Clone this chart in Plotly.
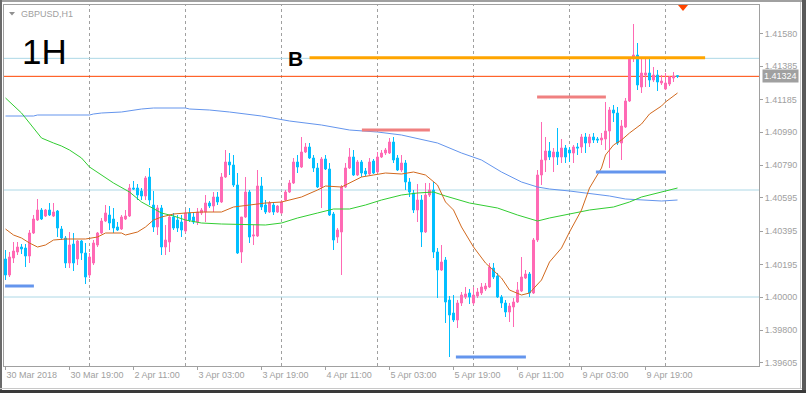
import plotly.graph_objects as go
import pandas as pd

# ---------------- data ----------------
# hourly sessions (weekend skipped): start, number of bars
sessions = [("2018-03-30 03:00", 21), ("2018-04-02 00:00", 24), ("2018-04-03 00:00", 24),
            ("2018-04-04 00:00", 24), ("2018-04-05 00:00", 24), ("2018-04-06 00:00", 24),
            ("2018-04-09 00:00", 24), ("2018-04-10 00:00", 4)]
times = []
for start, n in sessions:
    times += list(pd.date_range(start, periods=n, freq="h"))

open_ = [
1.40228, 1.40132, 1.40234, 1.40270, 1.40300, 1.40294, 1.40246, 1.40384, 1.40462, 1.40522,
1.40486, 1.40522, 1.40486, 1.40516, 1.40408, 1.40354, 1.40204, 1.40318, 1.40228, 1.40336,
1.40264, 1.40132, 1.40204, 1.40312, 1.40384, 1.40456, 1.40492, 1.40468, 1.40420, 1.40408,
1.40468, 1.40486, 1.40654, 1.40654, 1.40636, 1.40606, 1.40720, 1.40552, 1.40420, 1.40534,
1.40300, 1.40330, 1.40480, 1.40462, 1.40450, 1.40396, 1.40504, 1.40480, 1.40450, 1.40504,
1.40510, 1.40564, 1.40546, 1.40600, 1.40570, 1.40720, 1.40810, 1.40792, 1.40672, 1.40270,
1.40480, 1.40630, 1.40366, 1.40366, 1.40666, 1.40552, 1.40510, 1.40552, 1.40510, 1.40504,
1.40582, 1.40630, 1.40684, 1.40810, 1.40780, 1.40870, 1.40900, 1.40834, 1.40774, 1.40660,
1.40828, 1.40768, 1.40498, 1.40360, 1.40390, 1.40660, 1.40774, 1.40840, 1.40732, 1.40810,
1.40756, 1.40738, 1.40816, 1.40750, 1.40840, 1.40864, 1.40864, 1.40930, 1.40834, 1.40762,
1.40804, 1.40690, 1.40624, 1.40522, 1.40582, 1.40390, 1.40612, 1.40642, 1.40270, 1.40162,
1.40222, 1.39982, 1.39904, 1.39862, 1.39964, 1.40000, 1.40024, 1.39964, 1.40006, 1.40024,
1.40048, 1.40060, 1.40174, 1.40126, 1.40000, 1.39964, 1.39910, 1.39940, 1.39970, 1.40036,
1.40114, 1.40138, 1.40024, 1.40342, 1.40732, 1.40822, 1.40876, 1.40840, 1.40870, 1.40840,
1.40894, 1.40882, 1.40864, 1.40900, 1.40900, 1.40960, 1.40924, 1.40960, 1.40948, 1.40942,
1.40948, 1.40996, 1.41122, 1.41104, 1.40924, 1.41020, 1.41176, 1.41434, 1.41452, 1.41260,
1.41332, 1.41344, 1.41302, 1.41332, 1.41284, 1.41248, 1.41278, 1.41314, 1.41328]

high = [
1.40282, 1.40270, 1.40330, 1.40330, 1.40318, 1.40318, 1.40402, 1.40492, 1.40588, 1.40534,
1.40528, 1.40564, 1.40564, 1.40522, 1.40426, 1.40366, 1.40390, 1.40384, 1.40342, 1.40342,
1.40324, 1.40264, 1.40342, 1.40390, 1.40474, 1.40552, 1.40546, 1.40534, 1.40450, 1.40492,
1.40522, 1.40678, 1.40696, 1.40678, 1.40654, 1.40726, 1.40774, 1.40636, 1.40552, 1.40552,
1.40432, 1.40492, 1.40504, 1.40492, 1.40492, 1.40522, 1.40534, 1.40510, 1.40534, 1.40534,
1.40612, 1.40576, 1.40630, 1.40630, 1.40744, 1.40882, 1.40864, 1.40852, 1.40744, 1.40480,
1.40720, 1.40642, 1.40432, 1.40762, 1.40720, 1.40582, 1.40576, 1.40570, 1.40552, 1.40582,
1.40642, 1.40702, 1.40834, 1.40852, 1.40960, 1.40924, 1.40924, 1.40852, 1.40804, 1.40840,
1.40852, 1.40804, 1.40510, 1.40414, 1.40672, 1.40804, 1.40894, 1.40882, 1.40822, 1.40822,
1.40774, 1.40834, 1.40828, 1.40870, 1.40882, 1.40894, 1.40954, 1.40960, 1.40852, 1.40852,
1.40822, 1.40714, 1.40642, 1.40678, 1.40612, 1.40684, 1.40684, 1.40690, 1.40294, 1.40312,
1.40240, 1.40006, 1.40012, 1.39982, 1.40030, 1.40060, 1.40048, 1.40060, 1.40054, 1.40084,
1.40084, 1.40204, 1.40204, 1.40144, 1.40012, 1.39982, 1.39964, 1.39994, 1.40090, 1.40240,
1.40162, 1.40150, 1.40354, 1.40762, 1.41050, 1.40960, 1.40930, 1.40894, 1.41014, 1.40948,
1.40912, 1.40900, 1.40912, 1.40924, 1.40978, 1.40984, 1.40978, 1.40984, 1.40960, 1.40984,
1.41170, 1.41140, 1.41152, 1.41140, 1.41062, 1.41194, 1.41440, 1.41638, 1.41524, 1.41428,
1.41434, 1.41428, 1.41380, 1.41362, 1.41332, 1.41344, 1.41326, 1.41350, 1.41332]

low = [
1.40102, 1.40120, 1.40204, 1.40252, 1.40258, 1.40180, 1.40204, 1.40378, 1.40456, 1.40462,
1.40480, 1.40486, 1.40480, 1.40360, 1.40342, 1.40174, 1.40174, 1.40156, 1.40192, 1.40222,
1.40078, 1.40114, 1.40192, 1.40300, 1.40378, 1.40450, 1.40402, 1.40384, 1.40396, 1.40402,
1.40462, 1.40480, 1.40642, 1.40582, 1.40582, 1.40582, 1.40552, 1.40390, 1.40372, 1.40252,
1.40252, 1.40270, 1.40402, 1.40390, 1.40360, 1.40384, 1.40450, 1.40438, 1.40432, 1.40492,
1.40450, 1.40534, 1.40510, 1.40552, 1.40564, 1.40714, 1.40732, 1.40660, 1.40258, 1.40204,
1.40474, 1.40324, 1.40312, 1.40360, 1.40522, 1.40498, 1.40504, 1.40492, 1.40504, 1.40498,
1.40576, 1.40624, 1.40678, 1.40744, 1.40774, 1.40864, 1.40828, 1.40750, 1.40654, 1.40534,
1.40762, 1.40486, 1.40282, 1.40324, 1.40132, 1.40654, 1.40768, 1.40726, 1.40726, 1.40720,
1.40726, 1.40732, 1.40738, 1.40744, 1.40834, 1.40852, 1.40858, 1.40804, 1.40756, 1.40750,
1.40642, 1.40600, 1.40504, 1.40450, 1.40300, 1.40384, 1.40600, 1.40234, 1.39994, 1.40156,
1.39844, 1.39640, 1.39850, 1.39814, 1.39946, 1.39988, 1.39958, 1.39952, 1.39994, 1.40012,
1.40036, 1.40054, 1.40108, 1.39994, 1.39934, 1.39880, 1.39850, 1.39820, 1.39964, 1.40030,
1.40108, 1.40000, 1.40018, 1.40330, 1.40672, 1.40750, 1.40822, 1.40750, 1.40792, 1.40804,
1.40804, 1.40810, 1.40804, 1.40852, 1.40864, 1.40864, 1.40900, 1.40924, 1.40924, 1.40912,
1.40882, 1.40774, 1.41050, 1.40912, 1.40822, 1.41014, 1.41170, 1.41410, 1.41242, 1.41224,
1.41260, 1.41260, 1.41290, 1.41236, 1.41272, 1.41242, 1.41266, 1.41290, 1.41314]

close = [
1.40132, 1.40240, 1.40276, 1.40300, 1.40288, 1.40246, 1.40384, 1.40468, 1.40522, 1.40468,
1.40522, 1.40492, 1.40510, 1.40414, 1.40354, 1.40204, 1.40312, 1.40204, 1.40336, 1.40264,
1.40120, 1.40240, 1.40324, 1.40384, 1.40456, 1.40504, 1.40444, 1.40414, 1.40402, 1.40480,
1.40486, 1.40654, 1.40648, 1.40612, 1.40606, 1.40714, 1.40582, 1.40420, 1.40534, 1.40300,
1.40342, 1.40480, 1.40414, 1.40414, 1.40402, 1.40504, 1.40462, 1.40450, 1.40510, 1.40522,
1.40564, 1.40546, 1.40600, 1.40570, 1.40720, 1.40810, 1.40792, 1.40672, 1.40264, 1.40480,
1.40630, 1.40360, 1.40372, 1.40666, 1.40540, 1.40510, 1.40564, 1.40510, 1.40546, 1.40570,
1.40630, 1.40684, 1.40810, 1.40780, 1.40870, 1.40900, 1.40834, 1.40774, 1.40660, 1.40828,
1.40768, 1.40492, 1.40342, 1.40402, 1.40660, 1.40774, 1.40840, 1.40732, 1.40810, 1.40744,
1.40738, 1.40810, 1.40744, 1.40840, 1.40864, 1.40882, 1.40930, 1.40822, 1.40762, 1.40804,
1.40690, 1.40630, 1.40522, 1.40582, 1.40390, 1.40612, 1.40642, 1.40270, 1.40162, 1.40210,
1.39970, 1.39892, 1.39862, 1.39964, 1.40012, 1.40018, 1.40000, 1.40012, 1.40030, 1.40060,
1.40066, 1.40180, 1.40120, 1.40000, 1.39964, 1.39910, 1.39946, 1.39970, 1.40042, 1.40120,
1.40138, 1.40024, 1.40342, 1.40732, 1.40822, 1.40876, 1.40840, 1.40870, 1.40840, 1.40894,
1.40840, 1.40864, 1.40900, 1.40894, 1.40960, 1.40924, 1.40960, 1.40942, 1.40942, 1.40954,
1.40996, 1.41122, 1.41104, 1.40924, 1.41026, 1.41176, 1.41434, 1.41452, 1.41272, 1.41344,
1.41344, 1.41302, 1.41332, 1.41290, 1.41296, 1.41284, 1.41320, 1.41326, 1.41324]

# moving averages (bar index, price)
ma_fast_bar = [0, 2, 4, 6, 8, 10, 12, 15, 20, 23, 25, 29, 30, 33, 35, 37, 39, 42, 45, 49,
               54, 57, 61, 65, 69, 74, 78, 80, 84, 86, 89, 92, 95, 99, 102, 105, 108, 110, 112, 114,
               117, 120, 124, 126, 129, 131, 134, 136, 139, 141, 144, 146, 149, 150, 152, 154, 156, 159, 161, 164,
               165, 168]
ma_fast = [1.40408, 1.40372, 1.40354, 1.40324, 1.40300, 1.40312, 1.40342, 1.40348, 1.40348, 1.40360,
           1.40384, 1.40384, 1.40372, 1.40390, 1.40420, 1.40462, 1.40480, 1.40498, 1.40504, 1.40510,
           1.40510, 1.40540, 1.40552, 1.40564, 1.40570, 1.40600, 1.40642, 1.40666, 1.40660, 1.40684,
           1.40720, 1.40732, 1.40744, 1.40738, 1.40750, 1.40732, 1.40672, 1.40570, 1.40522, 1.40420,
           1.40300, 1.40204, 1.40114, 1.40042, 1.40012, 1.40024, 1.40102, 1.40210, 1.40294, 1.40390,
           1.40522, 1.40654, 1.40774, 1.40852, 1.40912, 1.40942, 1.40984, 1.41038, 1.41098, 1.41146,
           1.41170, 1.41224]

ma_mid_bar = [0, 4, 6, 9, 12, 14, 16, 19, 21, 24, 27, 31, 34, 39, 42, 45, 49, 54, 61, 65,
              69, 73, 78, 82, 86, 90, 94, 99, 103, 107, 110, 116, 123, 128, 133, 136, 141, 146, 152, 156,
              159, 164, 168]
ma_mid = [1.41194, 1.41104, 1.41044, 1.40954, 1.40924, 1.40906, 1.40882, 1.40834, 1.40780, 1.40732,
          1.40684, 1.40630, 1.40570, 1.40504, 1.40486, 1.40462, 1.40444, 1.40438, 1.40432, 1.40432,
          1.40444, 1.40474, 1.40504, 1.40528, 1.40528, 1.40552, 1.40582, 1.40612, 1.40624, 1.40630,
          1.40606, 1.40564, 1.40534, 1.40492, 1.40456, 1.40474, 1.40498, 1.40522, 1.40540, 1.40570,
          1.40600, 1.40630, 1.40654]

ma_slow_bar = [0, 7, 8, 21, 22, 24, 29, 32, 34, 37, 45, 46, 51, 56, 64, 71, 79, 86, 93, 99,
               108, 114, 119, 124, 129, 133, 136, 141, 145, 151, 155, 160, 164, 168]
ma_slow = [1.41086, 1.41086, 1.41092, 1.41092, 1.41098, 1.41104, 1.41110, 1.41122, 1.41128, 1.41134,
           1.41134, 1.41128, 1.41122, 1.41110, 1.41086, 1.41056, 1.41032, 1.41002, 1.40990, 1.40972,
           1.40924, 1.40864, 1.40822, 1.40750, 1.40690, 1.40660, 1.40648, 1.40636, 1.40624, 1.40606,
           1.40588, 1.40582, 1.40576, 1.40582]

# horizontal levels
full_levels = [1.41432, 1.40642, 1.40000]
bid_price = 1.41324
b_level = (1.41436, 76.0, 174.9)
coral_levels = [(1.41002, 89.1, 106.1), (1.41200, 132.9, 150.1)]
blue_levels = [(1.40066, -0.1, 7.1), (1.39640, 112.6, 130.1), (1.40750, 147.6, 165.1)]

price_ticks = [1.41580, 1.41385, 1.41185, 1.40990, 1.40790, 1.40595, 1.40395, 1.40195, 1.40000, 1.39800, 1.39605]
time_tick_times = ["2018-03-30 03:00", "2018-03-30 19:00", "2018-04-02 11:00", "2018-04-03 03:00",
                   "2018-04-03 19:00", "2018-04-04 11:00", "2018-04-05 03:00", "2018-04-05 19:00",
                   "2018-04-06 11:00", "2018-04-09 03:00", "2018-04-09 19:00"]
time_tick_labels = ["30 Mar 2018", "30 Mar 19:00", "2 Apr 11:00", "3 Apr 03:00", "3 Apr 19:00",
                    "4 Apr 11:00", "5 Apr 03:00", "5 Apr 19:00", "6 Apr 11:00", "9 Apr 03:00", "9 Apr 19:00"]

# ---------------- figure ----------------
W, H = 806, 393
L, R, T, B = 4, 759, 5, 366
def px(x):
    return (x - L) / (R - L)
def py(y):
    return (B - y) / (B - T)

xs = list(range(len(times)))
tick_pos = [times.index(pd.Timestamp(t)) for t in time_tick_times]
day_starts = [i for i, t in enumerate(times) if t.hour == 0]

FONT = "Liberation Sans, Arial, sans-serif"
GRAY = "#a0a0a0"

fig = go.Figure()
fig.add_trace(go.Scatter(x=ma_slow_bar, y=ma_slow, mode="lines",
                         line=dict(color="#6495ED", width=1), hoverinfo="skip"))
fig.add_trace(go.Scatter(x=ma_mid_bar, y=ma_mid, mode="lines",
                         line=dict(color="#32CD32", width=1), hoverinfo="skip"))
fig.add_trace(go.Scatter(x=ma_fast_bar, y=ma_fast, mode="lines",
                         line=dict(color="#D2691E", width=1), hoverinfo="skip"))
fig.add_trace(go.Candlestick(
    x=xs, open=open_, high=high, low=low, close=close,
    increasing=dict(line=dict(color="#FF69B4", width=1), fillcolor="#FF69B4"),
    decreasing=dict(line=dict(color="#00BFFF", width=1), fillcolor="#00BFFF"),
    whiskerwidth=0, hoverinfo="skip"))

shapes = []
for d in day_starts:
    shapes.append(dict(type="line", xref="x", yref="paper", x0=d, x1=d, y0=0, y1=1,
                       line=dict(color=GRAY, width=1, dash="3px,3px"), layer="below"))
for lv in full_levels:
    shapes.append(dict(type="line", xref="paper", yref="y", x0=0, x1=1, y0=lv, y1=lv,
                       line=dict(color="#ADD8E6", width=1), layer="below"))
shapes.append(dict(type="line", xref="paper", yref="y", x0=0, x1=1, y0=bid_price, y1=bid_price,
                   line=dict(color="#FF4500", width=1), layer="below"))
p, a, b = b_level
shapes.append(dict(type="line", xref="x", yref="y", x0=a, x1=b, y0=p, y1=p,
                   line=dict(color="#FFA500", width=3)))
for p, a, b in coral_levels:
    shapes.append(dict(type="line", xref="x", yref="y", x0=a, x1=b, y0=p, y1=p,
                       line=dict(color="#F08080", width=3)))
for p, a, b in blue_levels:
    shapes.append(dict(type="line", xref="x", yref="y", x0=a, x1=b, y0=p, y1=p,
                       line=dict(color="#6495ED", width=3)))

# window frame
def rect(x0, y0, x1, y1, color):
    return dict(type="rect", xref="paper", yref="paper", x0=px(x0), x1=px(x1), y0=py(y1), y1=py(y0),
                line=dict(width=0), fillcolor=color, layer="above")
shapes += [rect(0, 0, 806, 2, "#a0a0a0"), rect(0, 0, 2, 393, "#6a6a6a"),
           rect(800, 2, 801, 389, "#c8c8c8"), rect(802, 0, 806, 393, "#5a5a5a"),
           rect(0, 388, 802, 389, "#c8c8c8"), rect(0, 390, 806, 393, "#3a3a3a")]
# small markers
def tri(pts, color):
    path = "M " + " L ".join(f"{px(x)},{py(y)}" for x, y in pts) + " Z"
    return dict(type="path", xref="paper", yref="paper", path=path,
                fillcolor=color, line=dict(width=0))
shapes.append(tri([(9, 12), (15, 12), (12, 15.5)], "#909090"))
shapes.append(tri([(678, 5), (688, 5), (683, 11)], "#FF4500"))

annotations = [
    dict(text="GBPUSD,H1", xref="paper", yref="paper", x=px(19), y=py(14), xanchor="left", yanchor="middle",
         showarrow=False, font=dict(family=FONT, size=9, color=GRAY)),
    dict(text="1H", xref="paper", yref="paper", x=px(20), y=py(51), xanchor="left", yanchor="middle",
         showarrow=False, font=dict(family=FONT, size=35, color="#000000")),
    dict(text="<b>B</b>", xref="paper", yref="paper", x=px(286), y=py(58), xanchor="left", yanchor="middle",
         showarrow=False, font=dict(family=FONT, size=21, color="#000000")),
    dict(text=f"{bid_price:.5f}", xref="paper", yref="y", x=px(762), y=bid_price, xanchor="left",
         yanchor="middle", showarrow=False, bgcolor=GRAY, borderpad=1,
         font=dict(family=FONT, size=9, color="#ffffff")),
]

fig.update_layout(
    width=W, height=H, margin=dict(l=L, r=W - R, t=T, b=H - B),
    paper_bgcolor="#ffffff", plot_bgcolor="#ffffff", showlegend=False,
    shapes=shapes, annotations=annotations, hovermode=False,
    xaxis=dict(range=[-0.375, 188.375], showgrid=False, zeroline=False, rangeslider=dict(visible=False),
               tickvals=tick_pos, ticktext=time_tick_labels, ticks="outside", ticklen=3, tickcolor=GRAY,
               ticklabelposition="outside right", tickfont=dict(family=FONT, size=9, color=GRAY),
               showline=True, linecolor=GRAY, mirror=True, fixedrange=True),
    yaxis=dict(range=[1.39586, 1.41752], side="right", showgrid=False, zeroline=False,
               tickvals=price_ticks, ticktext=[f"{v:.5f}" for v in price_ticks],
               ticks="outside", ticklen=3, tickcolor=GRAY, tickfont=dict(family=FONT, size=9, color=GRAY),
               showline=True, linecolor=GRAY, mirror=True, fixedrange=True),
)

fig.write_html("out.html", config={"displayModeBar": False},
               post_script="document.body.style.margin='0';document.body.style.padding='0';"
                           "document.body.style.overflow='hidden';")
